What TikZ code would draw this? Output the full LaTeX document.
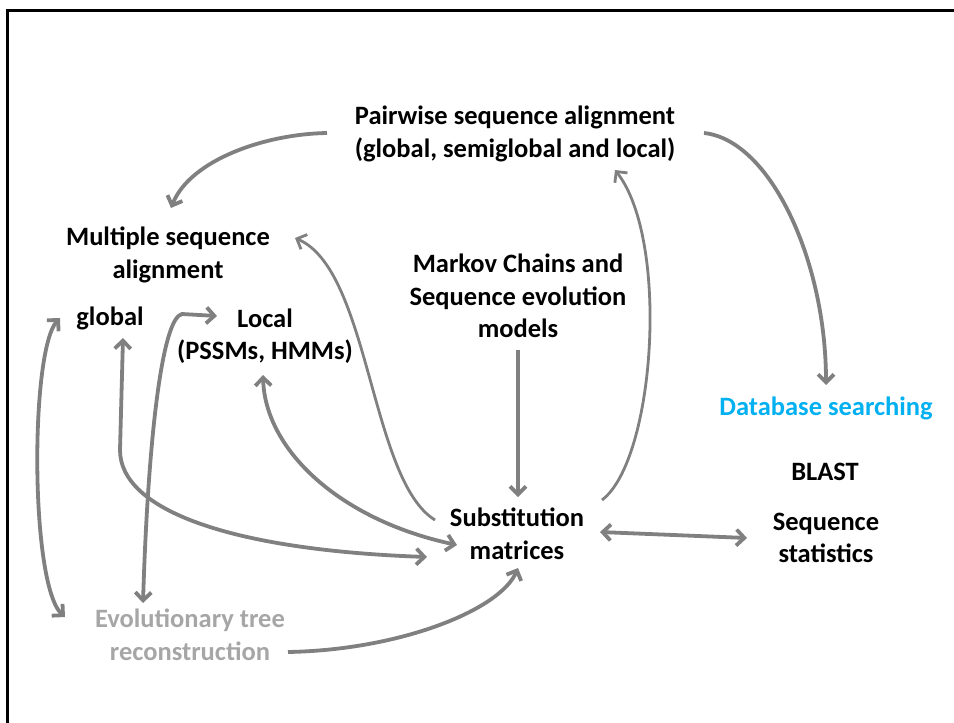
\documentclass[tikz,border=0pt]{standalone}
\usepackage{fontspec}
\setmainfont{Carlito}
\usepackage{tikz}
\usetikzlibrary{arrows.meta, calc}

\definecolor{linkgray}{RGB}{128,128,128}
\definecolor{treegray}{RGB}{166,166,166}
\definecolor{dbblue}{RGB}{0,176,240}

\begin{document}
\begin{tikzpicture}[x=1pt, y=-1pt,
  lbl/.style={font=\bfseries\fontsize{26.5}{32.5}\selectfont, align=center, inner sep=0pt},
  link/.style={draw=linkgray, line width=3.8pt, >={Straight Barb[length=8pt,width=16pt]}},
  thinlink/.style={link, line width=2.8pt}]
\useasboundingbox (0,0) rectangle (954,723);
% frame
\draw[line width=3pt] (7,730) -- (7,10) -- (960,10);
% topics
\node[lbl] (pair) at (515,134) {Pairwise sequence alignment\\(global, semiglobal and local)};
\node[lbl] (multi) at (168,255) {Multiple sequence\\alignment};
\node[lbl] (glob) at (110,318) {global};
\node[lbl] (local) at (265,336) {Local\\(PSSMs, HMMs)};
\node[lbl] (markov) at (518,296) {Markov Chains and\\Sequence evolution\\models};
\node[lbl] (subst) at (517,534) {Substitution\\matrices};
\node[lbl, text=dbblue] (dbs) at (826,408) {Database searching};
\node[lbl] (blast) at (825,472) {BLAST};
\node[lbl] (seqstat) at (826,538) {Sequence\\statistics};
\node[lbl, text=treegray] (evol) at (190,635) {Evolutionary tree\\reconstruction};
% links
\draw[link,->] ($(pair)+(-188,-1)$) .. controls (265,134) and (190,160) .. ($(multi)+(3,-47)$);
\draw[link,->] ($(pair)+(189,-1)$) .. controls (770,140) and (826,260) .. ($(dbs)+(0,-23)$);
\draw[thinlink,->] ($(subst)+(85,-34)$) .. controls (655,460) and (670,240) .. ($(pair)+(100,36)$);
\draw[link,->] ($(markov)+(0,54)$) -- ($(subst)+(1,-37)$);
\draw[thinlink,->] ($(subst)+(-82,-14)$) .. controls (370,480) and (370,270) .. ($(multi)+(127,-17)$);
\draw[link,<->] ($(local)+(-2,39)$) .. controls (265,450) and (340,520) .. ($(subst)+(-60,11)$);
\draw[link,<->] ($(glob)+(13,20)$) -- (120,450) .. controls (120,510) and (230,550) .. ($(subst)+(-90,23)$);
\draw[link,->] ($(evol)+(98,17)$) .. controls (400,650) and (500,610) .. ($(subst)+(1,34)$);
\draw[link,<->] ($(glob)+(-50,0)$) .. controls (30,350) and (30,585) .. ($(evol)+(-125,-18)$);
\draw[link,<->] ($(evol)+(-47,-32)$) .. controls (148,440) and (162,318) .. (182,314) -- ($(local)+(-48,-20)$);
\draw[link,<->] ($(subst)+(83,-2)$) -- ($(seqstat)+(-79,0)$);
\end{tikzpicture}
\end{document}
